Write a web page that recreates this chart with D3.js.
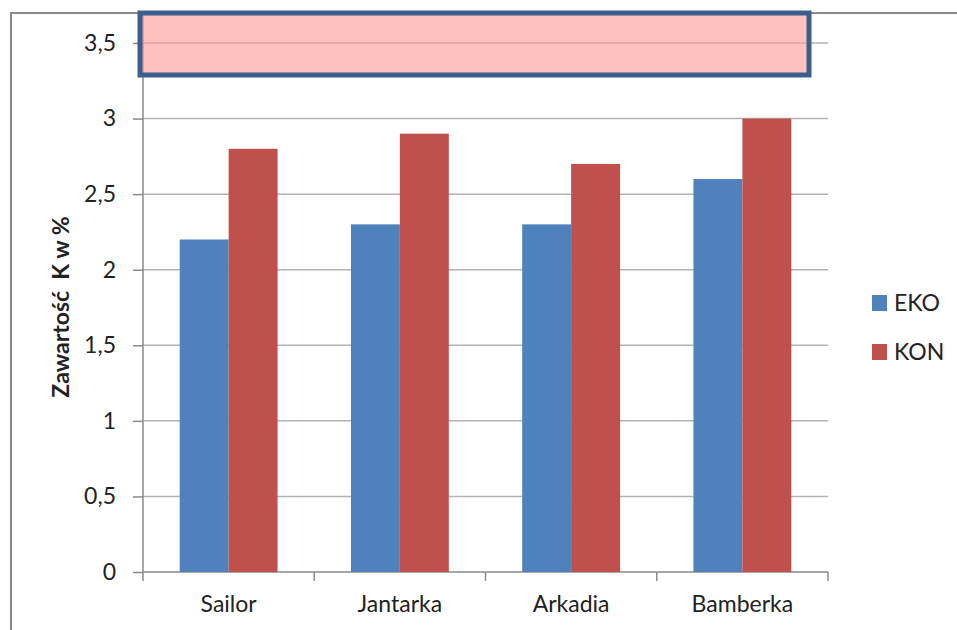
<!DOCTYPE html>
<html>
<head>
<meta charset="utf-8">
<script src="https://cdn.jsdelivr.net/npm/d3@7"></script>
<style>
  body { margin: 0; background: #fff; }
  text { font-family: Lato, "Open Sans", sans-serif; fill: #222; }
</style>
</head>
<body>
<div id="chart"></div>
<script>
// data
const categories = ["Sailor", "Jantarka", "Arkadia", "Bamberka"];
const seriesNames = ["EKO", "KON"];
const ekoValues = [2.2, 2.3, 2.3, 2.6];
const konValues = [2.8, 2.9, 2.7, 3.0];
const yTicks = [0, 0.5, 1, 1.5, 2, 2.5, 3, 3.5];
const yTitle = "Zawartość  K w %";

const colors = { EKO: "#4f81bd", KON: "#c0504d" };
const width = 957, height = 630;

const svg = d3.select("#chart").append("svg")
    .attr("width", width).attr("height", height);

// chart area frame (only top and left are visible)
svg.append("path")
    .attr("d", `M11,${height} V13 H${width}`)
    .attr("fill", "none").attr("stroke", "#8a8a8a").attr("stroke-width", 2);

// plot area
const plot = { left: 143, right: 828, bottom: 572 };
const y = d3.scaleLinear().domain([0, 3.5]).range([plot.bottom, 43]);
const x0 = d3.scaleBand().domain(categories).range([plot.left, plot.right]);
// Excel gap width 150% -> each bar = band / 3.5
const barW = x0.bandwidth() / 3.5;
const x1 = d3.scaleBand().domain(seriesNames)
    .range([0.75 * barW, 2.75 * barW]);

// gridlines
svg.append("g")
    .selectAll("line").data(yTicks.filter(d => d > 0)).enter()
    .append("line")
    .attr("x1", plot.left).attr("x2", plot.right)
    .attr("y1", d => y(d)).attr("y2", d => y(d))
    .attr("stroke", "#b3b3b3").attr("stroke-width", 1.5);

// y axis
const yAxis = svg.append("g")
    .attr("transform", `translate(${plot.left},0)`)
    .call(d3.axisLeft(y).tickValues(yTicks).tickSize(10).tickPadding(17)
        .tickFormat(d => String(d).replace(".", ",")));
yAxis.select(".domain").attr("d", `M0,13 V${plot.bottom}`);

// x axis
const xAxis = svg.append("g")
    .attr("transform", `translate(0,${plot.bottom})`)
    .call(d3.axisBottom(x0).tickSize(0).tickPadding(24));
xAxis.select(".domain").remove();
xAxis.selectAll(".catTick")
    .data(d3.range(categories.length + 1)).enter()
    .append("line").attr("class", "catTick")
    .attr("x1", i => plot.left + i * x0.step())
    .attr("x2", i => plot.left + i * x0.step())
    .attr("y1", 0).attr("y2", 9)
    .attr("stroke", "#8a8a8a").attr("stroke-width", 1.5);
xAxis.append("line")
    .attr("x1", plot.left).attr("x2", plot.right)
    .attr("stroke", "#8a8a8a").attr("stroke-width", 1.5);

[yAxis, xAxis].forEach(ax => {
  ax.selectAll(".tick line").attr("stroke", "#8a8a8a").attr("stroke-width", 1.5);
  ax.select(".domain").attr("stroke", "#8a8a8a").attr("stroke-width", 1.5);
  ax.selectAll("text").attr("font-size", 23).attr("font-family", "Lato, sans-serif")
      .attr("fill", "#222");
});

// bars
const rows = categories.map((c, i) => ({ cat: c, EKO: ekoValues[i], KON: konValues[i] }));
svg.append("g").selectAll("g").data(rows).enter()
    .append("g")
    .attr("transform", d => `translate(${x0(d.cat)},0)`)
    .selectAll("rect")
    .data(d => seriesNames.map(s => ({ s, v: d[s] })))
    .enter().append("rect")
    .attr("x", d => x1(d.s))
    .attr("width", x1.bandwidth())
    .attr("y", d => y(d.v))
    .attr("height", d => plot.bottom - y(d.v))
    .attr("fill", d => colors[d.s]);

// y title
svg.append("text")
    .attr("transform", "translate(69,307) rotate(-90)")
    .attr("text-anchor", "middle")
    .attr("font-size", 23).attr("font-weight", "bold")
    .style("white-space", "pre")
    .text(yTitle);

// legend
const legend = svg.append("g").selectAll("g").data(seriesNames).enter()
    .append("g")
    .attr("transform", (d, i) => `translate(872,${303 + i * 49})`);
legend.append("rect").attr("y", -8).attr("width", 15).attr("height", 16)
    .attr("fill", d => colors[d]);
legend.append("text").attr("x", 22).attr("dy", "0.36em")
    .attr("font-size", 23).text(d => d);

// pink overlay box
svg.append("rect")
    .attr("x", 140).attr("y", 13).attr("width", 669).attr("height", 62)
    .attr("fill", "#ff9999").attr("fill-opacity", 0.62)
    .attr("stroke", "#3b5e8c").attr("stroke-width", 5);
</script>
</body>
</html>
